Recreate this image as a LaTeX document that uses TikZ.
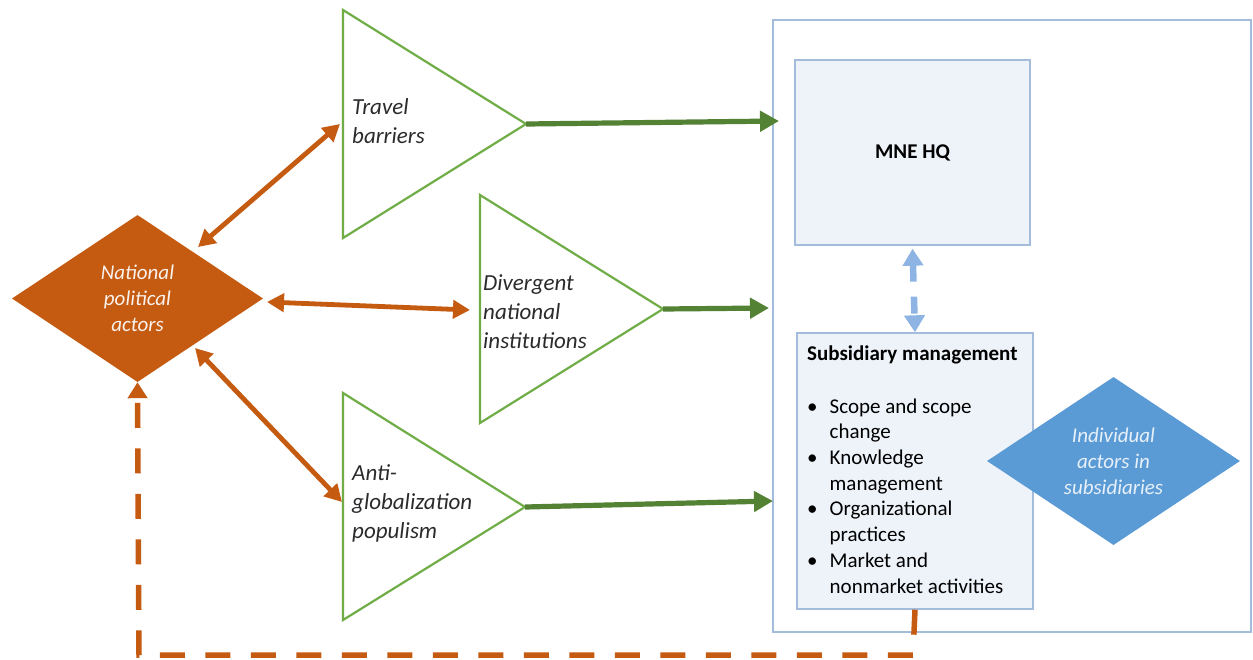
\documentclass[tikz,border=0pt]{standalone}
\usepackage{fontspec}
\setmainfont{Carlito}
\usetikzlibrary{arrows.meta,shapes.geometric}
\definecolor{orng}{HTML}{C55A11}
\definecolor{dgreen}{HTML}{548235}
\definecolor{lgreen}{HTML}{70AD47}
\definecolor{mblue}{HTML}{5B9BD5}
\definecolor{lblue}{HTML}{8DB4E2}
\definecolor{boxfill}{HTML}{EEF3FA}
\definecolor{boxline}{HTML}{A3BCDC}
\definecolor{txtgray}{HTML}{2B2B2B}
\begin{document}
\begin{tikzpicture}[x=1pt,y=-1pt,
  box/.style={draw=boxline, line width=1.4pt, fill=boxfill, inner sep=0pt},
  tri/.style={draw=lgreen, line width=2.2pt, line join=miter},
  tritext/.style={anchor=west, align=left, font=\fontsize{23}{29}\selectfont\itshape, text=txtgray, inner sep=0pt},
  greenarrow/.style={draw=dgreen, line width=5.2pt, -{Triangle[length=19pt,width=20pt]}},
  orangearrow/.style={draw=orng, line width=4.8pt, {Triangle[length=17pt,width=18pt]}-{Triangle[length=17pt,width=18pt]}},
  actor/.style={diamond, aspect=1.5, inner sep=0pt, align=center, font=\fontsize{21}{26}\selectfont\itshape}
]
\useasboundingbox (0,0) rectangle (1253,659);
\fill[white] (0,0) rectangle (1253,659);

% organisation frame
\node[draw=boxline, line width=1.4pt, minimum width=478pt, minimum height=612pt, inner sep=0pt] (org) at (1012,326) {};
\node[box, minimum width=235pt, minimum height=185pt, font=\fontsize{21}{26}\selectfont\bfseries] (hq) at (912.5,152.5) {MNE HQ};
\node[box, minimum width=236pt, minimum height=276pt] (sub) at (915,471) {};
\node[anchor=west, inner sep=0pt, font=\fontsize{21}{26}\selectfont\bfseries] (subt) at (807,355) {Subsidiary management};
\node[anchor=north west, inner sep=0pt, font=\fontsize{21}{25.7}\selectfont] (subl) at (807,395)
 {\begin{tabular}{@{}l@{\hspace{12pt}}l@{}}
  \textbullet & Scope and scope\\
   & change\\
  \textbullet & Knowledge\\
   & management\\
  \textbullet & Organizational\\
   & practices\\
  \textbullet & Market and\\
   & nonmarket activities
  \end{tabular}};

% actors
\node[actor, fill=orng, text=white!92!orng, minimum width=251pt, minimum height=167pt] (npa) at (137.5,298.5) {National\\political\\actors};
\node[actor, fill=mblue, text=white!85!mblue, minimum width=253pt, minimum height=168pt] (ind) at (1113.5,461) {Individual\\actors in\\subsidiaries};

% triangles
\draw[tri] (343,10) -- (343,238) -- (526,124) -- cycle;
\coordinate (tb-out) at (526,124);
\coordinate (tb-in) at (340,124);
\node[tritext] (tbt) at (352,121) {Travel\\barriers};

\draw[tri] (480,195) -- (480,423) -- (663,309) -- cycle;
\coordinate (dn-out) at (663,309);
\coordinate (dn-in) at (470,310);
\node[tritext] (dnt) at (483,312) {Divergent\\national\\institutions};

\draw[tri] (343,393) -- (343,620) -- (525,507) -- cycle;
\coordinate (ag-out) at (525,507);
\coordinate (ag-in) at (342,502);
\node[tritext] (agt) at (352,503) {Anti-\\globalization\\populism};

% diamond ends
\coordinate (npa-tb) at (198,247);
\coordinate (npa-dn) at (267,302);
\coordinate (npa-ag) at (195,348);

% green arrows
\coordinate (org-tb) at (779,121);
\coordinate (org-dn) at (769,308);
\coordinate (org-ag) at (773,501);
\draw[greenarrow] (tb-out) -- (org-tb);
\draw[greenarrow] (dn-out) -- (org-dn);
\draw[greenarrow] (ag-out) -- (org-ag);

% orange double arrows
\draw[orangearrow] (npa-tb) -- (tb-in);
\draw[orangearrow] (npa-dn) -- (dn-in);
\draw[orangearrow] (npa-ag) -- (ag-in);

% HQ <-> subsidiary
\coordinate (hq-s) at ([yshift=-3pt]hq.south);
\draw[draw=lblue, line width=6.5pt, dash pattern=on 17pt off 15pt,
  {Triangle[length=17pt,width=20pt]}-{Triangle[length=17pt,width=20pt]}] (hq-s) -- (sub.north);

% feedback loop
\coordinate (lp1) at (913,655);
\coordinate (lp2) at (139,655);
\draw[draw=orng, line width=5.5pt, dash pattern=on 25pt off 20.5pt, -{Triangle[length=16pt,width=19pt]}]
  (sub.south) -- (lp1) -- (lp2) -- (npa.south);
\end{tikzpicture}
\end{document}
